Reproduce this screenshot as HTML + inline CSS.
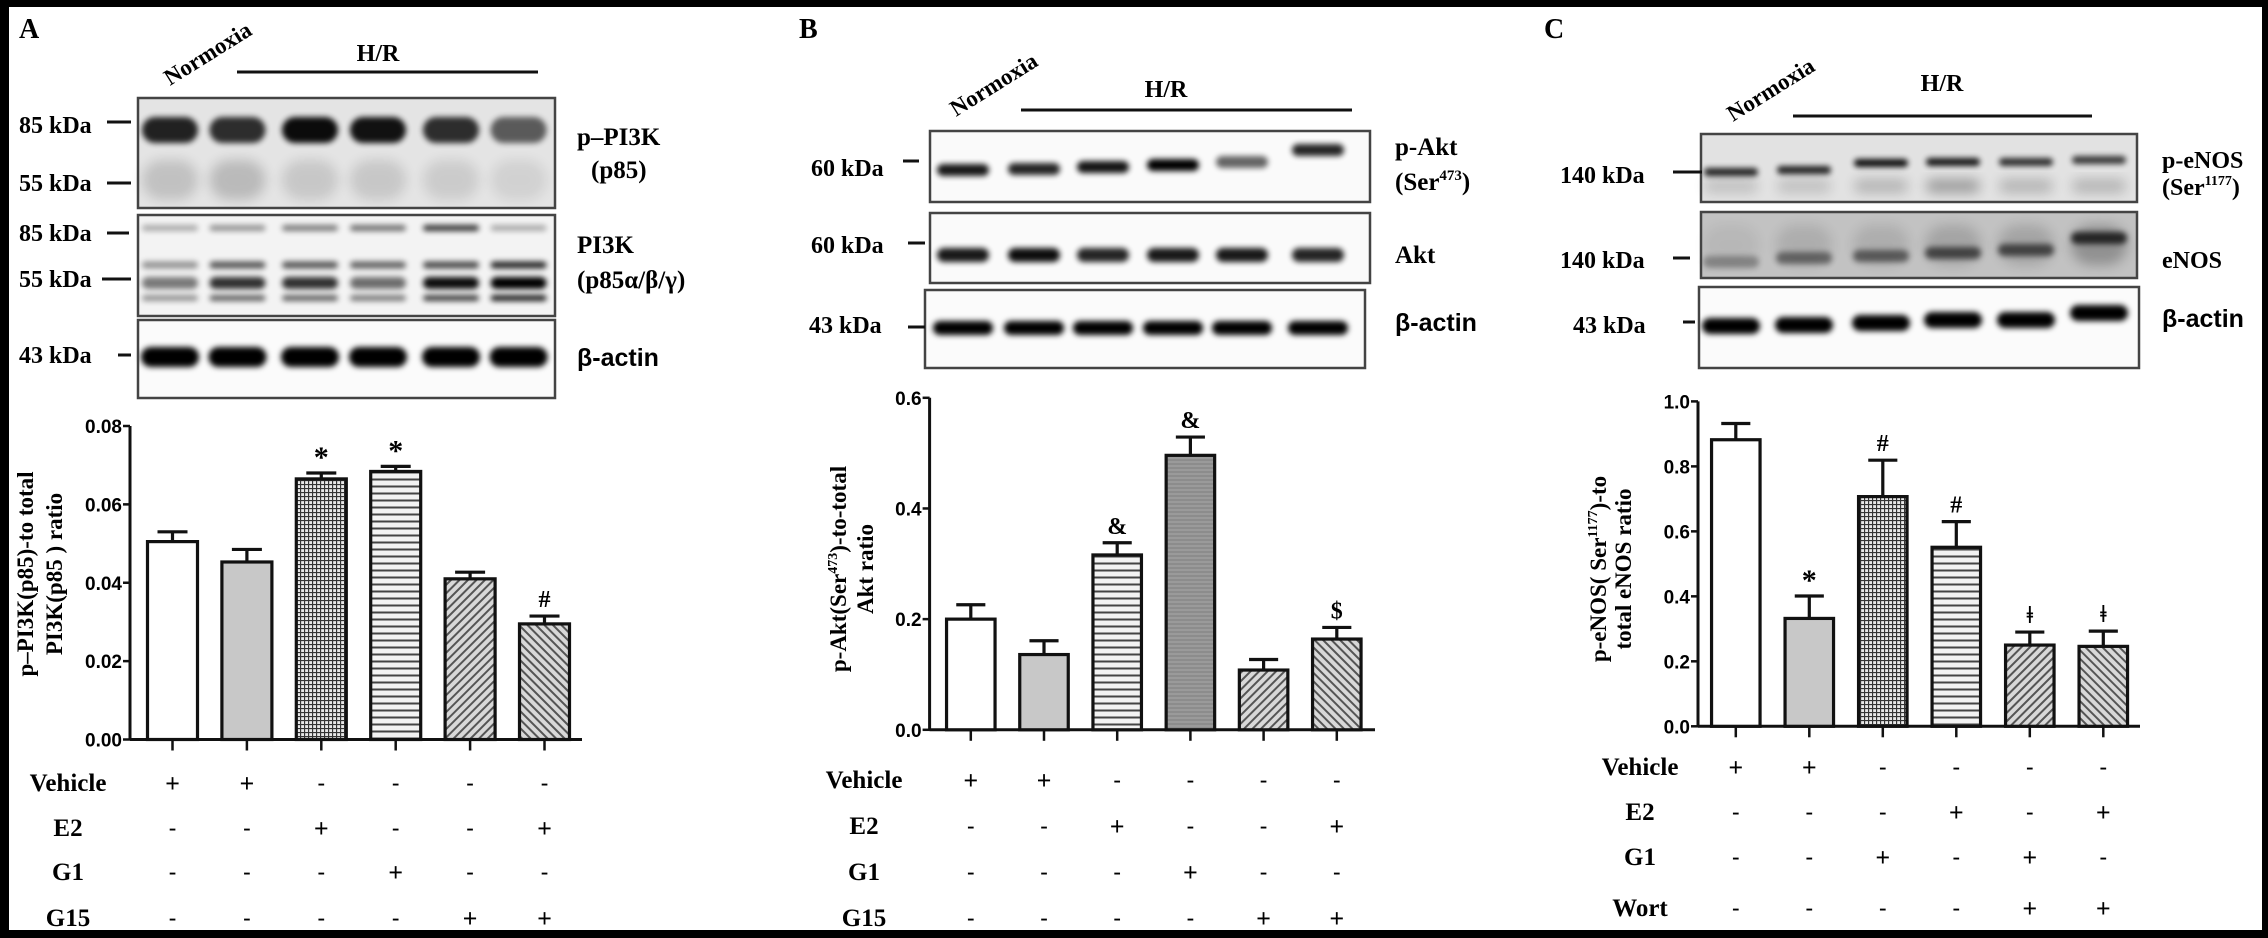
<!DOCTYPE html>
<html><head><meta charset="utf-8">
<style>
html,body{margin:0;padding:0;background:#000;}
svg{display:block;}
.serif{font-family:"Liberation Serif","DejaVu Serif",serif;font-weight:bold;}
.sans{font-family:"Liberation Sans","DejaVu Sans",sans-serif;font-weight:bold;}
</style></head>
<body>
<svg id="fig" width="2268" height="938" viewBox="0 0 2268 938" xmlns="http://www.w3.org/2000/svg">
<defs>
<filter id="blur" x="-20%" y="-100%" width="140%" height="300%"><feGaussianBlur stdDeviation="3"/></filter>
<filter id="blur2" x="-20%" y="-50%" width="140%" height="200%"><feGaussianBlur stdDeviation="6"/></filter>
<pattern id="grid" width="4" height="4" patternUnits="userSpaceOnUse"><rect width="4" height="4" fill="#e8e8e8"/><path d="M0 0.5H4M0.5 0V4" stroke="#333" stroke-width="1.3"/></pattern>
<pattern id="hlines" width="7" height="7" patternUnits="userSpaceOnUse"><rect width="7" height="7" fill="#f2f2f2"/><path d="M0 3.5H7" stroke="#444" stroke-width="2"/></pattern>
<pattern id="hgray" width="4" height="4" patternUnits="userSpaceOnUse"><rect width="4" height="4" fill="#8c8c8c"/><path d="M0 2H4" stroke="#a8a8a8" stroke-width="1"/></pattern>
<pattern id="dfwd" width="6" height="6" patternUnits="userSpaceOnUse" patternTransform="rotate(45)"><rect width="6" height="6" fill="#d8d8d8"/><path d="M3 0V6" stroke="#555" stroke-width="2"/></pattern>
<pattern id="dback" width="6" height="6" patternUnits="userSpaceOnUse" patternTransform="rotate(-45)"><rect width="6" height="6" fill="#d8d8d8"/><path d="M3 0V6" stroke="#555" stroke-width="2"/></pattern>
</defs>
<rect x="0" y="0" width="2268" height="938" fill="#000"/>
<rect x="9" y="7" width="2253" height="923" fill="#fff"/>
<g id="layer"></g>
</svg>
<script>
// ---------- Chart data ----------
const categories = ['Normoxia-Vehicle','HR-Vehicle','HR-E2','HR-G1','HR-G15','HR-E2+G15'];
const categoriesC = ['Normoxia-Vehicle','HR-Vehicle','HR-G1','HR-E2','HR-G1+Wort','HR-E2+Wort'];

const pi3kMeans  = [0.0505, 0.0453, 0.0665, 0.0684, 0.0410, 0.0295];
const pi3kErrors = [0.0025, 0.0032, 0.0015, 0.0013, 0.0017, 0.0020];
const pi3kTicks  = ['0.00','0.02','0.04','0.06','0.08'];
const pi3kTickValues = [0, 0.02, 0.04, 0.06, 0.08];
const pi3kMarks  = ['', '', '*', '*', '', '#'];

const aktMeans  = [0.200, 0.136, 0.316, 0.496, 0.108, 0.164];
const aktErrors = [0.026, 0.025, 0.022, 0.033, 0.019, 0.021];
const aktTicks  = ['0.0','0.2','0.4','0.6'];
const aktTickValues = [0, 0.2, 0.4, 0.6];
const aktMarks  = ['', '', '&', '&', '', '$'];

const enosMeans  = [0.882, 0.332, 0.707, 0.551, 0.250, 0.246];
const enosErrors = [0.050, 0.069, 0.112, 0.079, 0.040, 0.047];
const enosTicks  = ['0.0','0.2','0.4','0.6','0.8','1.0'];
const enosTickValues = [0, 0.2, 0.4, 0.6, 0.8, 1.0];
const enosMarks  = ['', '*', '#', '#', 'ǂ', 'ǂ'];

const rowLabelsAB = ['Vehicle','E2','G1','G15'];
const rowSignsAB  = ['++----','--+--+','---+--','----++'];
const rowLabelsC  = ['Vehicle','E2','G1','Wort'];
const rowSignsC   = ['++----','---+-+','--+-+-','----++'];

// ---------- helpers ----------
const NS = 'http://www.w3.org/2000/svg';
const layer = document.getElementById('layer');
function mk(tag, attrs, parent){
  const el = document.createElementNS(NS, tag);
  for (const k in attrs) el.setAttribute(k, attrs[k]);
  (parent || layer).appendChild(el);
  return el;
}
function txt(str, attrs, cls, name, parent){
  const el = mk('text', attrs, parent);
  el.setAttribute('class', cls);
  el.textContent = str;
  
  
  return el;
}

const fills = {
  A: ['#ffffff','#c8c8c8','url(#grid)','url(#hlines)','url(#dfwd)','url(#dback)'],
  B: ['#ffffff','#c8c8c8','url(#hlines)','url(#hgray)','url(#dfwd)','url(#dback)'],
  C: ['#ffffff','#c8c8c8','url(#grid)','url(#hlines)','url(#dfwd)','url(#dback)']
};

function drawChart(p){
  const g = mk('g', {});
  
  
  const yScale = v => p.y0 - (v / p.max) * (p.y0 - p.yTop);
  const xScale = i => p.x0 + i * p.step;
  // y axis
  const ya = mk('line', {x1:p.axisX, y1:p.yTop, x2:p.axisX, y2:p.y0+1, stroke:'#111', 'stroke-width':3}, g);
  
  
  p.tickValues.forEach((tv, i) => {
    const y = yScale(tv);
    const t = mk('line', {x1:p.axisX-7, y1:y, x2:p.axisX, y2:y, stroke:'#111', 'stroke-width':2.5}, g);
    
    
    txt(p.ticks[i], {x:p.axisX-8, y:y+7, 'text-anchor':'end', 'font-size':19}, 'sans', p.id + '-y-tick-label', g);
  });
  // x axis
  const xa = mk('line', {x1:p.axisX, y1:p.y0, x2:p.axisEnd, y2:p.y0, stroke:'#111', 'stroke-width':3}, g);
  
  
  // bars
  p.means.forEach((m, i) => {
    const cx = xScale(i);
    const top = yScale(m);
    const et = yScale(m + p.errors[i]);
    const tk = mk('line', {x1:cx, y1:p.y0, x2:cx, y2:p.y0+11, stroke:'#111', 'stroke-width':2.5}, g);
    
    
    const eb = mk('path', {d:`M${cx} ${top}V${et}M${cx-p.barW*0.3} ${et}H${cx+p.barW*0.3}`, stroke:'#111', 'stroke-width':3.2, fill:'none'}, g);
    
    
    const b = mk('rect', {x:cx-p.barW/2, y:top, width:p.barW, height:p.y0-top, fill:fills[p.id][i], stroke:'#111', 'stroke-width':3.2}, g);
    
    
    if (p.marks[i]) {
      const star = p.marks[i] === '*';
      txt(p.marks[i], {x:cx, y: et - (star ? 6 : 9), 'text-anchor':'middle', 'font-size': star ? 30 : 24}, 'serif', p.id + '-significance-mark', g);
    }
  });
  // treatment table
  p.rowLabels.forEach((lab, r) => {
    const y = p.rowY[r];
    txt(lab, {x:p.labelX, y:y+9, 'text-anchor':'middle', 'font-size':25}, 'serif', p.id + '-row-label-' + lab.toLowerCase(), g);
    p.rowSigns[r].split('').forEach((s, i) => {
      txt(s === '+' ? '+' : '-', {x:xScale(i), y:y+ (s==='+'?10:8), 'text-anchor':'middle', 'font-size': s==='+'?26:22}, 'serif', p.id + '-treatment-sign', g);
    });
  });
  // y title
  p.title.forEach((line, k) => {
    const t = mk('text', {transform:`translate(${p.titleX[k]},${p.titleCy}) rotate(-90)`, 'text-anchor':'middle', 'font-size':23}, g);
    t.setAttribute('class', 'serif');
    
    
    line.forEach(seg => {
      const ts = mk('tspan', seg.sup ? {'font-size':14, dy:-9} : (seg.after ? {dy:9} : {}), t);
      ts.textContent = seg.t;
    });
  });
}

drawChart({id:'A', cats:categories, means:pi3kMeans, errors:pi3kErrors, ticks:pi3kTicks, tickValues:pi3kTickValues, marks:pi3kMarks,
  axisX:130, y0:739.5, yTop:426, max:0.08, x0:172.5, step:74.4, barW:50, axisEnd:582,
  rowLabels:rowLabelsAB, rowSigns:rowSignsAB, rowY:[782,827,871,917], labelX:68,
  titleX:[33,62], titleCy:574,
  title:[[{t:'p–PI3K(p85)-to total'}],[{t:'PI3K(p85 )  ratio'}]]});

drawChart({id:'B', cats:categories, means:aktMeans, errors:aktErrors, ticks:aktTicks, tickValues:aktTickValues, marks:aktMarks,
  axisX:929.6, y0:729.8, yTop:397.8, max:0.6, x0:970.8, step:73.2, barW:48.5, axisEnd:1375,
  rowLabels:rowLabelsAB, rowSigns:rowSignsAB, rowY:[779,825,871,917], labelX:864,
  titleX:[846,873], titleCy:569,
  title:[[{t:'p-Akt(Ser'},{t:'473',sup:true},{t:')-to-total',after:true}],[{t:'Akt ratio'}]]});

drawChart({id:'C', cats:categoriesC, means:enosMeans, errors:enosErrors, ticks:enosTicks, tickValues:enosTickValues, marks:enosMarks,
  axisX:1698, y0:726.3, yTop:401.4, max:1.0, x0:1735.8, step:73.5, barW:48.5, axisEnd:2140,
  rowLabels:rowLabelsC, rowSigns:rowSignsC, rowY:[766,811,856,907], labelX:1640,
  titleX:[1606,1631], titleCy:569,
  title:[[{t:'p-eNOS( Ser'},{t:'1177',sup:true},{t:')-to',after:true}],[{t:'total eNOS ratio'}]]});

// ---------- Western blots (image-like, not chart data) ----------
function blot(id, x, y, w, h, bg, lanes, laneW, bands){
  const g = mk('g', {});
  
  
  mk('rect', {x:x, y:y, width:w, height:h, fill:bg}, g);
  bands.forEach(b => {
    lanes.forEach((lx, i) => {
      const op = b.op[i];
      const by = Array.isArray(b.y) ? b.y[i] : b.y;
      mk('rect', {x:lx-laneW/2, y:by-b.h/2, width:laneW, height:b.h, rx:b.h/2, fill:'#000', opacity:op, filter: b.soft ? 'url(#blur2)' : 'url(#blur)'}, g);
    });
  });
  mk('rect', {x:x, y:y, width:w, height:h, fill:'none', stroke:'#444', 'stroke-width':2.5}, g);
}
const lanesA = [170,237.5,310,378,451,518.6];
const lanesB = [963,1034,1103,1173,1242,1318];
const lanesC = [1731,1804,1881,1953,2026,2099];

blot('blot-p-pi3k', 138, 98, 417, 110, '#e4e4e4', lanesA, 56, [
  {y:130, h:26, op:[0.85,0.8,0.95,0.92,0.8,0.6]},
  {y:180, h:40, op:[0.15,0.18,0.12,0.12,0.1,0.08], soft:true}]);
blot('blot-pi3k', 138, 215, 417, 101, '#f3f3f3', lanesA, 56, [
  {y:228, h:6, op:[0.3,0.4,0.5,0.55,0.8,0.3]},
  {y:265, h:7, op:[0.4,0.65,0.65,0.6,0.7,0.85]},
  {y:283, h:12, op:[0.5,0.8,0.8,0.55,0.95,1]},
  {y:298, h:6, op:[0.4,0.6,0.6,0.5,0.75,0.9]}]);
blot('blot-a-beta-actin', 138, 320, 417, 78, '#fbfbfb', lanesA, 58, [
  {y:357, h:20, op:[1,1,1,1,1,1]}]);

blot('blot-p-akt', 930, 131, 440, 71, '#fafafa', lanesB, 52, [
  {y:[170,169,167,165,162,150], h:12, op:[0.9,0.85,0.92,1,0.6,0.85]}]);
blot('blot-akt', 930, 213, 440, 70, '#fafafa', lanesB, 52, [
  {y:255, h:14, op:[0.9,0.95,0.85,0.9,0.9,0.85]}]);
blot('blot-b-beta-actin', 925, 290, 440, 78, '#fbfbfb', lanesB, 60, [
  {y:328, h:14, op:[1,1,1,1,1,1]}]);

blot('blot-p-enos', 1701, 134, 436, 68, '#e2e2e2', lanesC, 54, [
  {y:[172,170,163,162,162,160], h:8, op:[0.85,0.85,0.95,0.9,0.8,0.75]},
  {y:186, h:14, op:[0.15,0.15,0.2,0.3,0.2,0.2], soft:true}]);
blot('blot-enos', 1701, 212, 436, 66, '#c2c2c2', lanesC, 56, [
  {y:[262,258,256,253,250,238], h:12, op:[0.3,0.45,0.5,0.6,0.6,0.75]},
  {y:245, h:40, op:[0.05,0.1,0.1,0.15,0.15,0.25], soft:true}]);
blot('blot-c-beta-actin', 1699, 287, 440, 81, '#fbfbfb', lanesC, 58, [
  {y:[326,325,323,320,320,313], h:16, op:[1,1,1,1,1,1]}]);

// ---------- blot labels ----------
function label(str, x, y, size, cls, name, anchor){
  return txt(str, {x:x, y:y, 'font-size':size, 'text-anchor':anchor||'start'}, cls, name);
}
function tick(x1, x2, y, name){
  const l = mk('line', {x1:x1, y1:y, x2:x2, y2:y, stroke:'#111', 'stroke-width':3});
  
  
}
// Panel letters
label('A', 19, 38, 28, 'serif', 'panel-a-label');
label('B', 799, 38, 28, 'serif', 'panel-b-label');
label('C', 1544, 38, 28, 'serif', 'panel-c-label');

// Normoxia / H/R headers
[[170,86],[956,117],[1733,122]].forEach((p, i) => {
  const t = txt('Normoxia', {transform:`translate(${p[0]},${p[1]}) rotate(-32)`, 'font-size':23}, 'serif', 'normoxia-header');
});
label('H/R', 378, 61, 24, 'serif', 'hr-header-a', 'middle');
label('H/R', 1166, 97, 24, 'serif', 'hr-header-b', 'middle');
label('H/R', 1942, 91, 24, 'serif', 'hr-header-c', 'middle');
tick(237, 538, 72, 'hr-line-a');
tick(1021, 1352, 110, 'hr-line-b');
tick(1793, 2092, 116, 'hr-line-c');

// Panel A markers
label('85 kDa', 19, 133, 24, 'serif', 'marker-85kda');
tick(107, 131, 122, 'marker-tick');
label('55 kDa', 19, 191, 24, 'serif', 'marker-55kda');
tick(107, 131, 183, 'marker-tick');
label('85 kDa', 19, 241, 24, 'serif', 'marker-85kda');
tick(107, 129, 233, 'marker-tick');
label('55 kDa', 19, 287, 24, 'serif', 'marker-55kda');
tick(102, 131, 279, 'marker-tick');
label('43 kDa', 19, 363, 24, 'serif', 'marker-43kda');
tick(118, 131, 355, 'marker-tick');
label('p–PI3K', 577, 145, 25, 'serif', 'label-p-pi3k');
label('(p85)', 591, 178, 25, 'serif', 'label-p85');
label('PI3K', 577, 253, 25, 'serif', 'label-pi3k');
label('(p85α/β/γ)', 577, 288, 25, 'serif', 'label-p85-abg');
label('β-actin', 577, 366, 25, 'sans', 'label-beta-actin-a');

// Panel B markers
label('60 kDa', 811, 176, 24, 'serif', 'marker-60kda');
tick(903, 919, 161, 'marker-tick');
label('60 kDa', 811, 253, 24, 'serif', 'marker-60kda');
tick(908, 925, 243, 'marker-tick');
label('43 kDa', 809, 333, 24, 'serif', 'marker-43kda');
tick(908, 925, 327, 'marker-tick');
label('p-Akt', 1395, 155, 25, 'serif', 'label-p-akt');
(function(){
  const t = txt('(Ser', {x:1395, y:190, 'font-size':25}, 'serif', 'label-ser473');
  const s = mk('tspan', {'font-size':15, dy:-10}, t); s.textContent = '473';
  const e = mk('tspan', {dy:10}, t); e.textContent = ')';
})();
label('Akt', 1395, 263, 25, 'serif', 'label-akt');
label('β-actin', 1395, 331, 25, 'sans', 'label-beta-actin-b');

// Panel C markers
label('140 kDa', 1560, 183, 24, 'serif', 'marker-140kda');
tick(1673, 1702, 172, 'marker-tick');
label('140 kDa', 1560, 268, 24, 'serif', 'marker-140kda');
tick(1673, 1690, 258, 'marker-tick');
label('43 kDa', 1573, 333, 24, 'serif', 'marker-43kda');
tick(1683, 1695, 322, 'marker-tick');
label('p-eNOS', 2162, 168, 24, 'serif', 'label-p-enos');
(function(){
  const t = txt('(Ser', {x:2162, y:195, 'font-size':24}, 'serif', 'label-ser1177');
  const s = mk('tspan', {'font-size':14, dy:-10}, t); s.textContent = '1177';
  const e = mk('tspan', {dy:10}, t); e.textContent = ')';
})();
label('eNOS', 2162, 268, 24, 'serif', 'label-enos');
label('β-actin', 2162, 327, 25, 'sans', 'label-beta-actin-c');
</script>
</body></html>
